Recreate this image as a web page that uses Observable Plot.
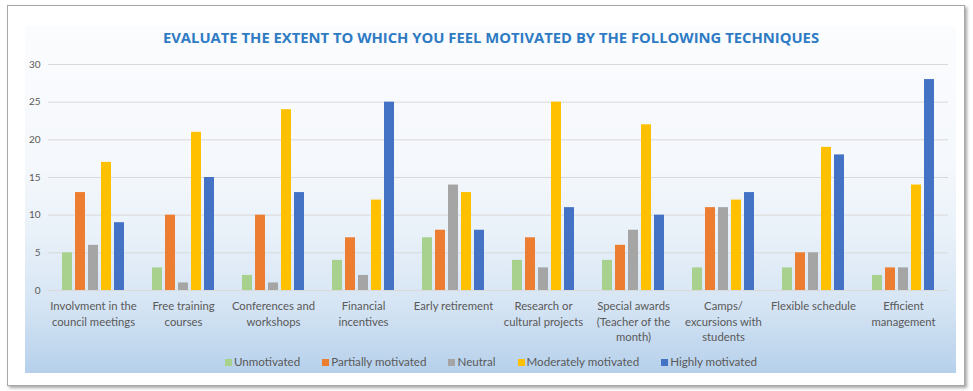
<!DOCTYPE html>
<html>
<head>
<meta charset="utf-8">
<script src="https://cdn.jsdelivr.net/npm/d3@7"></script>
<script src="https://cdn.jsdelivr.net/npm/@observablehq/plot@0.6"></script>
<style>
  html, body { margin: 0; padding: 0; background: #ffffff; width: 973px; height: 391px; overflow: hidden; }
  #frame { position: absolute; left: 7px; top: 5px; width: 956px; height: 379px; border: 1px solid #a8a8a8; background: #fff; box-shadow: 2px 2px 3px rgba(0,0,0,0.35); }
  #inner { position: absolute; left: 25px; top: 26px; width: 931px; height: 347px;
    background: linear-gradient(to bottom, #fbfcfe 0%, #f5f8fc 40%, #e9f1f9 60%, #d6e5f4 80%, #b6d0eb 100%); }
  #title { position: absolute; left: 25px; top: 28px; width: 932px; text-align: center; font-family: "Open Sans", sans-serif; font-weight: 700; font-size: 14.8px; color: #2e7bc4; line-height: 18px; }
  #chart { position: absolute; left: 25px; top: 50px; }
  #legend { position: absolute; left: 25px; top: 354px; width: 932px; display: flex; justify-content: center; gap: 22px; font-family: Lato, sans-serif; font-size: 11.6px; color: #595959; line-height: 16px; }
  #legend .item { display: flex; align-items: center; gap: 2px; }
  #legend .sw { width: 7px; height: 7px; display: inline-block; }
</style>
</head>
<body>
<div id="frame"></div>
<div id="inner"></div>
<div id="title">EVALUATE THE EXTENT TO WHICH YOU FEEL MOTIVATED BY THE FOLLOWING TECHNIQUES</div>
<div id="chart"></div>
<div id="legend"></div>
<script>
const categories = [
  "Involvment in the\ncouncil meetings",
  "Free training\ncourses",
  "Conferences and\nworkshops",
  "Financial\nincentives",
  "Early retirement",
  "Research or\ncultural projects",
  "Special awards\n(Teacher of the\nmonth)",
  "Camps/\nexcursions with\nstudents",
  "Flexible schedule",
  "Efficient\nmanagement"
];
const series = ["Unmotivated", "Partially motivated", "Neutral", "Moderately motivated", "Highly motivated"];
const colors = ["#a9d18e", "#ed7d31", "#a5a5a5", "#ffc000", "#4472c4"];
const unmotivated = [5, 3, 2, 4, 7, 4, 4, 3, 3, 2];
const partiallyMotivated = [13, 10, 10, 7, 8, 7, 6, 11, 5, 3];
const neutral = [6, 1, 1, 2, 14, 3, 8, 11, 5, 3];
const moderatelyMotivated = [17, 21, 24, 12, 13, 25, 22, 12, 19, 14];
const highlyMotivated = [9, 15, 13, 25, 8, 11, 10, 13, 18, 28];
const yTicks = [0, 5, 10, 15, 20, 25, 30];

const seriesValues = [unmotivated, partiallyMotivated, neutral, moderatelyMotivated, highlyMotivated];
const data = categories.flatMap((c, i) => series.map((s, j) => ({category: c, series: s, value: seriesValues[j][i]})));

const chart = Plot.plot({
  width: 928,
  height: 300,
  marginLeft: 20,
  marginRight: 3,
  marginTop: 14,
  marginBottom: 60,
  style: {fontFamily: "Lato, sans-serif", fontSize: "11px", color: "#595959", background: "transparent", overflow: "visible"},
  fx: {domain: categories, padding: 0, label: null, axis: null},
  x: {domain: series, paddingInner: 0.2, paddingOuter: 0.89, axis: null},
  y: {domain: [0, 30], label: null},
  color: {domain: series, range: colors},
  marks: [
    Plot.gridY(yTicks, {stroke: "#d9d9d9", strokeOpacity: 1, strokeWidth: 1}),
    Plot.axisY(yTicks, {tickSize: 0, tickPadding: 8, label: null, fontSize: 10}),
    Plot.axisFx({anchor: "bottom", tickSize: 0, tickPadding: 9, lineHeight: 1.35, label: null, fontSize: 11.3}),
    Plot.barY(data, {fx: "category", x: "series", y: "value", fill: "series"})
  ]
});
document.getElementById("chart").appendChild(chart);

const legend = document.getElementById("legend");
series.forEach((s, i) => {
  const item = document.createElement("div");
  item.className = "item";
  const sw = document.createElement("span");
  sw.className = "sw";
  sw.style.background = colors[i];
  const label = document.createElement("span");
  label.textContent = s;
  item.appendChild(sw);
  item.appendChild(label);
  legend.appendChild(item);
});
</script>
</body>
</html>
